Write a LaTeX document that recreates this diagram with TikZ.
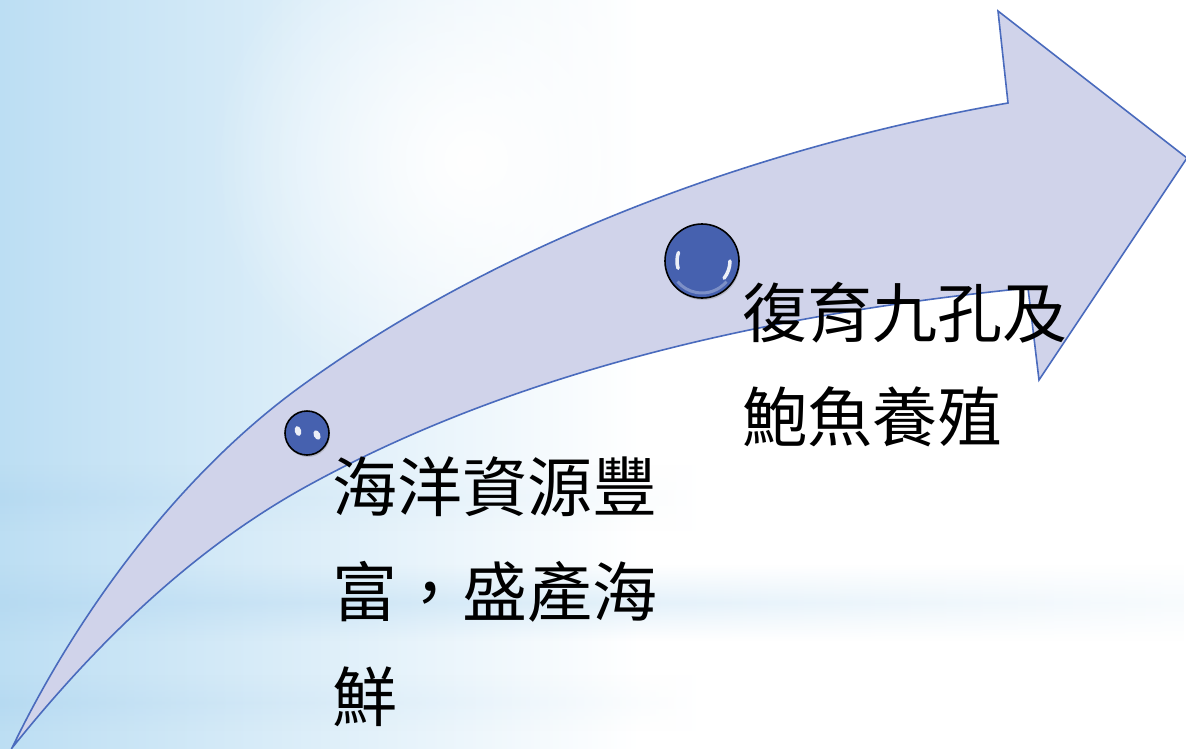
\documentclass[tikz,border=0pt]{standalone}
\usepackage{fontspec}
\newfontfamily\cjk{Noto Sans CJK TC}
\usetikzlibrary{shadows,fadings}
\definecolor{arrowfill}{HTML}{D0D3EA}
\definecolor{arrowline}{HTML}{4A6BBD}
\definecolor{ball}{HTML}{4661AF}
\definecolor{bgblue}{HTML}{BCDEF3}
\definecolor{bandblue}{HTML}{B3D8F1}
\tikzfading[name=hband, top color=transparent!100, bottom color=transparent!100, middle color=transparent!35]
\tikzfading[name=glow, inner color=transparent!0, outer color=transparent!100]
\begin{document}
\begin{tikzpicture}[x=1pt,y=-1pt,
  txt/.style={font=\cjk\fontsize{65}{105}\selectfont, anchor=base west, inner sep=0pt, align=left, text width=420pt},
  bigarrow/.style={fill=arrowfill, draw=arrowline, line width=1.6pt, line join=miter},
  ballstyle/.style={circle, fill=ball, draw=black, line width=1.6pt, inner sep=0pt,
    drop shadow={opacity=0.35, shadow xshift=1pt, shadow yshift=-2pt}},
  gloss/.style={white, opacity=0.9}]
\useasboundingbox (0,0) rectangle (1186,748);
% background
\fill[white] (0,0) rectangle (1186,748);
\shade[left color=bgblue, right color=white] (0,0) rectangle (640,748);
\fill[white, path fading=glow] (470,160) circle (260pt);
\shade[left color=bandblue, right color=white, path fading=hband] (0,465) rectangle (700,530);
\shade[left color=bandblue, right color=bandblue!15!white, path fading=hband] (0,565) rectangle (1186,640);
\shade[left color=bandblue, right color=white, path fading=hband] (0,675) rectangle (700,730);
% arrow
\filldraw[bigarrow] (12,748) .. controls (77,613) and (179,475) .. (300,387)
  .. controls (502,240) and (762,146) .. (1008,103)
  -- (998,11) -- (1187,158) -- (1039,380) -- (1028,288)
  .. controls (779,313) and (518,368) .. (300,490)
  .. controls (187,554) and (93,647) .. (12,748) -- cycle;
% spheres
\node[ballstyle, minimum size=44pt] (b1) at (307,433) {};
\node[ballstyle, minimum size=74pt] (b2) at (702,261) {};
\fill[gloss, rotate around={15:(298,431)}] (298,431) ellipse (3.2pt and 5pt);
\fill[gloss, rotate around={25:(317,435)}] (317,435) ellipse (3.2pt and 5pt);
\draw[gloss, line width=3.5pt, line cap=round] (702,261) ++(163:25) arc (163:200:25);
\draw[gloss, line width=3.5pt, line cap=round] (702,261) ++(0:28) arc (0:38:28);
\draw[white, opacity=0.3, line width=3pt] (702,261) ++(40:32) arc (40:140:32);
% texts
\node[txt] (t1) at (332,511) {海洋資源豐\\富，盛產海\\鮮};
\node[txt, font=\cjk\fontsize{65}{104}\selectfont] (t2) at (742,337) {復育九孔及\\鮑魚養殖};
\end{tikzpicture}
\end{document}
